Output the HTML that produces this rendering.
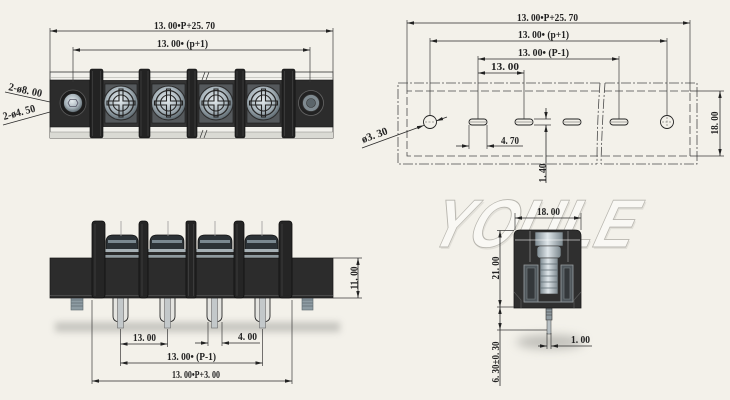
<!DOCTYPE html>
<html><head><meta charset="utf-8"><style>
html,body{margin:0;padding:0;background:#f3f1ea;}
svg{display:block}
text{font-family:"Liberation Serif",serif;font-weight:bold;font-size:11px;fill:#222}
.d{stroke:#2a2a2a;stroke-width:.8;fill:none}
.e{stroke:#3a3a3a;stroke-width:.7;fill:none}
.dd{stroke:#4a4a4a;stroke-width:.8;fill:none;stroke-dasharray:10 2 2 2}
.ds{stroke:#4a4a4a;stroke-width:.8;fill:none;stroke-dasharray:8 3}
</style></head><body>
<svg width="730" height="400" viewBox="0 0 730 400" xmlns="http://www.w3.org/2000/svg">
<defs>
<marker id="a" viewBox="0 0 7 4" refX="7" refY="2" markerWidth="7" markerHeight="4" markerUnits="userSpaceOnUse" orient="auto-start-reverse"><path d="M0,0.3L7,2L0,3.7z" fill="#222"/></marker>
<radialGradient id="mg" cx="45%" cy="40%" r="60%"><stop offset="0" stop-color="#e6ecef"/><stop offset=".6" stop-color="#a9b5bc"/><stop offset="1" stop-color="#5d6970"/></radialGradient>
<linearGradient id="met" x1="0" x2="1"><stop offset="0" stop-color="#7d8a91"/><stop offset=".45" stop-color="#dfe6ea"/><stop offset="1" stop-color="#7a868c"/></linearGradient>
<filter id="bl" x="-20%" y="-100%" width="140%" height="300%"><feGaussianBlur stdDeviation="3.5"/></filter>
<filter id="bl2" x="-50%" y="-100%" width="200%" height="300%"><feGaussianBlur stdDeviation="5"/></filter>
</defs>
<rect width="730" height="400" fill="#f3f1ea"/>

<!-- ============ TOP LEFT VIEW ============ -->
<rect x="50" y="72" width="283" height="66" fill="#f1f0eb" stroke="#333" stroke-width=".8"/>
<line x1="50" y1="77.5" x2="333" y2="77.5" stroke="#a5a5a0" stroke-width=".6"/>
<rect x="50" y="80" width="283" height="47" fill="#2f2f2f"/>
<rect x="50" y="132" width="283" height="6" fill="#dadad4"/>
<line x1="50" y1="132" x2="333" y2="132" stroke="#8a8a86" stroke-width=".6"/>
<rect x="50" y="80" width="40" height="47" fill="#2c2c2c" stroke="#1a1a1a" stroke-width=".6"/>
<circle cx="73" cy="103" r="13" fill="#1c1c1c" stroke="#5a5a5a" stroke-width=".8"/>
<circle cx="73" cy="103" r="9.5" fill="url(#mg)" stroke="#222" stroke-width=".8"/>
<path d="M70,99.5h6l2,3.5-2,3.5h-6l-2-3.5z" fill="none" stroke="#556" stroke-width=".8"/>
<rect x="295" y="80" width="38" height="47" fill="#2c2c2c" stroke="#1a1a1a" stroke-width=".6"/>
<circle cx="311" cy="103" r="12.5" fill="#222" stroke="#666" stroke-width=".8"/>
<circle cx="311" cy="103" r="8.5" fill="#7f8a90" stroke="#333" stroke-width=".8"/>
<circle cx="311" cy="103" r="4.5" fill="#5b656a" stroke="#333" stroke-width=".6"/>
<g>
<rect x="103" y="80" width="36" height="47" fill="#333"/>
<rect x="105" y="84" width="32" height="39" fill="#55595c" stroke="#1a1a1a" stroke-width=".6"/>
<circle cx="121" cy="103" r="17" fill="url(#mg)" stroke="#2a2a2a"/>
<circle cx="121" cy="103" r="12.5" fill="none" stroke="#2a2a2a" stroke-width="1.3"/>
<circle cx="121" cy="103" r="8" fill="none" stroke="#2a2a2a" stroke-width="1.1"/>
<path d="M119,89h4v12h12v4h-12v12h-4v-12h-12v-4h12z" fill="none" stroke="#222" stroke-width="1.1"/>
</g>
<g>
<rect x="150" y="80" width="37" height="47" fill="#333"/>
<rect x="152" y="84" width="33" height="39" fill="#55595c" stroke="#1a1a1a" stroke-width=".6"/>
<circle cx="168.5" cy="103" r="17" fill="url(#mg)" stroke="#2a2a2a"/>
<circle cx="168.5" cy="103" r="12.5" fill="none" stroke="#2a2a2a" stroke-width="1.3"/>
<circle cx="168.5" cy="103" r="8" fill="none" stroke="#2a2a2a" stroke-width="1.1"/>
<path d="M166.5,89h4v12h12v4h-12v12h-4v-12h-12v-4h12z" fill="none" stroke="#222" stroke-width="1.1"/>
</g>
<g>
<rect x="197" y="80" width="38" height="47" fill="#333"/>
<rect x="199" y="84" width="34" height="39" fill="#55595c" stroke="#1a1a1a" stroke-width=".6"/>
<circle cx="216" cy="103" r="17" fill="url(#mg)" stroke="#2a2a2a"/>
<circle cx="216" cy="103" r="12.5" fill="none" stroke="#2a2a2a" stroke-width="1.3"/>
<circle cx="216" cy="103" r="8" fill="none" stroke="#2a2a2a" stroke-width="1.1"/>
<path d="M214,89h4v12h12v4h-12v12h-4v-12h-12v-4h12z" fill="none" stroke="#222" stroke-width="1.1"/>
</g>
<g>
<rect x="245" y="80" width="37" height="47" fill="#333"/>
<rect x="247" y="84" width="33" height="39" fill="#55595c" stroke="#1a1a1a" stroke-width=".6"/>
<circle cx="263.5" cy="103" r="17" fill="url(#mg)" stroke="#2a2a2a"/>
<circle cx="263.5" cy="103" r="12.5" fill="none" stroke="#2a2a2a" stroke-width="1.3"/>
<circle cx="263.5" cy="103" r="8" fill="none" stroke="#2a2a2a" stroke-width="1.1"/>
<path d="M261.5,89h4v12h12v4h-12v12h-4v-12h-12v-4h12z" fill="none" stroke="#222" stroke-width="1.1"/>
</g>
<g fill="#232323" stroke="#0e0e0e" stroke-width=".6">
<rect x="90" y="69" width="13" height="69" rx="2"/>
<rect x="139" y="69" width="11" height="69" rx="2"/>
<rect x="187" y="69" width="10" height="69" rx="2"/>
<rect x="235" y="69" width="10" height="69" rx="2"/>
<rect x="282" y="69" width="13" height="69" rx="2"/>
</g>
<g stroke="#444" stroke-width=".7">
<line x1="92.5" y1="71" x2="92.5" y2="136"/><line x1="100.5" y1="71" x2="100.5" y2="136"/>
<line x1="141" y1="71" x2="141" y2="136"/><line x1="148" y1="71" x2="148" y2="136"/>
<line x1="189" y1="71" x2="189" y2="136"/><line x1="195" y1="71" x2="195" y2="136"/>
<line x1="237" y1="71" x2="237" y2="136"/><line x1="243" y1="71" x2="243" y2="136"/>
<line x1="284.5" y1="71" x2="284.5" y2="136"/><line x1="292.5" y1="71" x2="292.5" y2="136"/>
</g>
<g stroke="#333" stroke-width=".7">
<line x1="202" y1="80" x2="205" y2="72"/><line x1="206" y1="80" x2="209" y2="72"/>
<line x1="200" y1="138" x2="203" y2="130"/><line x1="204" y1="138" x2="207" y2="130"/>
</g>
<line class="e" x1="50" y1="28" x2="50" y2="72"/>
<line class="e" x1="333" y1="28" x2="333" y2="72"/>
<line class="d" x1="50" y1="31" x2="333" y2="31" marker-start="url(#a)" marker-end="url(#a)"/>
<text x="154" y="29" textLength="61" lengthAdjust="spacingAndGlyphs">13. 00•P+25. 70</text>
<line class="e" x1="73" y1="47" x2="73" y2="82"/>
<line class="e" x1="310" y1="47" x2="310" y2="82"/>
<line class="d" x1="73" y1="50" x2="310" y2="50" marker-start="url(#a)" marker-end="url(#a)"/>
<text x="157" y="47" textLength="51" lengthAdjust="spacingAndGlyphs">13. 00• (p+1)</text>
<line class="d" x1="5" y1="92" x2="50" y2="102"/>
<text x="8" y="90" transform="rotate(12 8 90)" textLength="34" lengthAdjust="spacingAndGlyphs">2-ø8. 00</text>
<line class="d" x1="3" y1="125" x2="50" y2="112"/>
<text x="4" y="120" transform="rotate(-15 4 120)" textLength="33" lengthAdjust="spacingAndGlyphs">2-ø4. 50</text>

<!-- ============ TOP RIGHT VIEW ============ -->
<path class="dd" d="M600,83 L398,83 L398,164 L597,164"/>
<path class="dd" d="M600,83 Q597,123 597,164"/>
<path class="dd" d="M605,83 L697,83 L697,164 L601,164"/>
<path class="dd" d="M605,83 Q602,123 601,164"/>
<path class="ds" d="M599,91 L407,91 L407,156 L598,156"/>
<path class="ds" d="M604,91 L690,91 L690,156 L602,156"/>
<circle cx="430" cy="122" r="6.5" fill="none" stroke="#222" stroke-width=".9"/>
<circle cx="667" cy="122" r="6.5" fill="none" stroke="#222" stroke-width=".9"/>
<g stroke="#555" stroke-width=".5" stroke-dasharray="2 1.5"><line x1="662" y1="122" x2="672" y2="122"/><line x1="667" y1="117" x2="667" y2="127"/><line x1="425" y1="122" x2="435" y2="122"/></g>
<g fill="none" stroke="#222" stroke-width=".9">
<rect x="469" y="119" width="18" height="6" rx="3"/>
<rect x="515" y="119" width="18" height="6" rx="3"/>
<rect x="563" y="119" width="18" height="6" rx="3"/>
<rect x="610" y="119" width="18" height="6" rx="3"/>
</g>
<g stroke="#555" stroke-width=".5">
<line x1="470" y1="122" x2="486" y2="122"/><line x1="516" y1="122" x2="532" y2="122"/>
<line x1="564" y1="122" x2="580" y2="122"/><line x1="611" y1="122" x2="627" y2="122"/>
</g>
<line class="e" x1="407" y1="20" x2="407" y2="91"/>
<line class="e" x1="690" y1="20" x2="690" y2="91"/>
<line class="e" x1="430" y1="38" x2="430" y2="115.5"/>
<line class="e" x1="667" y1="38" x2="667" y2="115.5"/>
<line class="e" x1="478" y1="56" x2="478" y2="119"/>
<line class="e" x1="524" y1="70" x2="524" y2="119"/>
<line class="e" x1="619" y1="56" x2="619" y2="119"/>
<line class="d" x1="407" y1="23" x2="690" y2="23" marker-start="url(#a)" marker-end="url(#a)"/>
<text x="517" y="21" textLength="61" lengthAdjust="spacingAndGlyphs">13. 00•P+25. 70</text>
<line class="d" x1="430" y1="41" x2="667" y2="41" marker-start="url(#a)" marker-end="url(#a)"/>
<text x="518" y="38" textLength="51" lengthAdjust="spacingAndGlyphs">13. 00• (p+1)</text>
<line class="d" x1="478" y1="59" x2="619" y2="59" marker-start="url(#a)" marker-end="url(#a)"/>
<text x="518" y="56" textLength="51" lengthAdjust="spacingAndGlyphs">13. 00• (P-1)</text>
<line class="d" x1="478" y1="73" x2="524" y2="73" marker-start="url(#a)" marker-end="url(#a)"/>
<text x="491" y="70" textLength="28" lengthAdjust="spacingAndGlyphs">13. 00</text>
<line class="e" x1="469" y1="125" x2="469" y2="149"/>
<line class="e" x1="487" y1="125" x2="487" y2="149"/>
<line class="d" x1="456" y1="146" x2="469" y2="146" marker-end="url(#a)"/>
<line class="d" x1="523" y1="146" x2="487" y2="146" marker-end="url(#a)"/>
<text x="501" y="144" textLength="18" lengthAdjust="spacingAndGlyphs">4. 70</text>
<line class="e" x1="534" y1="119" x2="551" y2="119"/>
<line class="e" x1="534" y1="125" x2="551" y2="125"/>
<line class="d" x1="546" y1="108" x2="546" y2="119" marker-end="url(#a)"/>
<line class="d" x1="546" y1="183" x2="546" y2="125" marker-end="url(#a)"/>
<text x="542" y="177" text-anchor="middle" transform="rotate(-90 542 173)" textLength="19" lengthAdjust="spacingAndGlyphs">1. 40</text>
<line class="d" x1="362" y1="148" x2="423.9" y2="125.4" marker-end="url(#a)"/>
<line class="d" x1="447" y1="117" x2="436.1" y2="121" marker-end="url(#a)"/>
<text x="363" y="143" transform="rotate(-20 363 143)" textLength="27" lengthAdjust="spacingAndGlyphs">ø3. 30</text>
<line class="e" x1="690" y1="91" x2="724" y2="91"/>
<line class="e" x1="690" y1="156" x2="724" y2="156"/>
<line class="d" x1="720" y1="91" x2="720" y2="156" marker-start="url(#a)" marker-end="url(#a)"/>
<text x="714" y="127" text-anchor="middle" transform="rotate(-90 714 123)" textLength="23" lengthAdjust="spacingAndGlyphs">18. 00</text>

<!-- ============ BOTTOM LEFT VIEW ============ -->
<rect x="55" y="322" width="285" height="10" fill="#8c8c88" opacity=".42" filter="url(#bl)"/>
<g>
<rect x="71" y="297" width="12" height="13" fill="#8e9ca3" stroke="#5a666c" stroke-width=".6"/>
<rect x="302" y="297" width="11" height="13" fill="#8e9ca3" stroke="#5a666c" stroke-width=".6"/>
<g stroke="#5e6a70" stroke-width=".7">
<line x1="71" y1="300" x2="83" y2="300"/><line x1="71" y1="303" x2="83" y2="303"/><line x1="71" y1="306" x2="83" y2="306"/>
<line x1="302" y1="300" x2="313" y2="300"/><line x1="302" y1="303" x2="313" y2="303"/><line x1="302" y1="306" x2="313" y2="306"/>
</g>
</g>
<g>
<path d="M113,298 V316 Q113,322 120.5,322 Q128,322 128,316 V298" fill="#e4e4e0" stroke="#2a2a2a" stroke-width=".9"/>
<rect x="117.5" y="298" width="6" height="30" fill="#c3c8ca" stroke="#6a6a6a" stroke-width=".6"/>
<path d="M160,298 V316 Q160,322 167.5,322 Q175,322 175,316 V298" fill="#e4e4e0" stroke="#2a2a2a" stroke-width=".9"/>
<rect x="164.5" y="298" width="6" height="30" fill="#c3c8ca" stroke="#6a6a6a" stroke-width=".6"/>
<path d="M207,298 V316 Q207,322 214.5,322 Q222,322 222,316 V298" fill="#e4e4e0" stroke="#2a2a2a" stroke-width=".9"/>
<rect x="211.5" y="298" width="6" height="30" fill="#c3c8ca" stroke="#6a6a6a" stroke-width=".6"/>
<path d="M255,298 V316 Q255,322 262.5,322 Q270,322 270,316 V298" fill="#e4e4e0" stroke="#2a2a2a" stroke-width=".9"/>
<rect x="259.5" y="298" width="6" height="30" fill="#c3c8ca" stroke="#6a6a6a" stroke-width=".6"/>
</g>
<rect x="50" y="258" width="283" height="40" fill="#2c2c2c" stroke="#161616" stroke-width=".7"/>
<line x1="50" y1="295.5" x2="333" y2="295.5" stroke="#4a4a4a" stroke-width="1"/>
<g>
<path d="M106,250 V242 Q106,235 113,235 H131 Q138,235 138,242 V250 Z" fill="#2c3236" stroke="#111" stroke-width=".7"/>
<rect x="108" y="240" width="28" height="3" fill="#7a8890"/>
<rect x="105" y="249" width="34" height="3" fill="#a6b0b5"/>
<rect x="105" y="252" width="34" height="3" fill="#2a2a2a"/>
<rect x="105" y="255" width="34" height="2.5" fill="#8f9a9f"/>
<path d="M150,250 V242 Q150,235 157,235 H177 Q184,235 184,242 V250 Z" fill="#2c3236" stroke="#111" stroke-width=".7"/>
<rect x="152" y="240" width="30" height="3" fill="#7a8890"/>
<rect x="148" y="249" width="38" height="3" fill="#a6b0b5"/>
<rect x="148" y="252" width="38" height="3" fill="#2a2a2a"/>
<rect x="148" y="255" width="38" height="2.5" fill="#8f9a9f"/>
<path d="M198,250 V242 Q198,235 205,235 H225 Q232,235 232,242 V250 Z" fill="#2c3236" stroke="#111" stroke-width=".7"/>
<rect x="200" y="240" width="30" height="3" fill="#7a8890"/>
<rect x="196" y="249" width="38" height="3" fill="#a6b0b5"/>
<rect x="196" y="252" width="38" height="3" fill="#2a2a2a"/>
<rect x="196" y="255" width="38" height="2.5" fill="#8f9a9f"/>
<path d="M245,250 V242 Q245,235 252,235 H271 Q278,235 278,242 V250 Z" fill="#2c3236" stroke="#111" stroke-width=".7"/>
<rect x="247" y="240" width="29" height="3" fill="#7a8890"/>
<rect x="244" y="249" width="35" height="3" fill="#a6b0b5"/>
<rect x="244" y="252" width="35" height="3" fill="#2a2a2a"/>
<rect x="244" y="255" width="35" height="2.5" fill="#8f9a9f"/>
</g>
<g stroke="#9a9a9a" stroke-width=".8">
<line x1="121" y1="221" x2="121" y2="236"/><line x1="168" y1="221" x2="168" y2="236"/>
<line x1="215" y1="221" x2="215" y2="236"/><line x1="262" y1="221" x2="262" y2="236"/>
</g>
<g fill="#252525" stroke="#0f0f0f" stroke-width=".8">
<rect x="92" y="221" width="13" height="77" rx="3"/>
<rect x="139" y="221" width="9" height="77" rx="3"/>
<rect x="186" y="221" width="10" height="77" rx="2"/>
<rect x="234" y="221" width="10" height="77" rx="3"/>
<rect x="279" y="221" width="13" height="77" rx="3"/>
</g>
<g stroke="#474747" stroke-width=".7">
<line x1="95" y1="224" x2="95" y2="296"/><line x1="142" y1="224" x2="142" y2="296"/>
<line x1="188.5" y1="224" x2="188.5" y2="296"/><line x1="193.5" y1="224" x2="193.5" y2="296"/>
<line x1="237" y1="224" x2="237" y2="296"/><line x1="282" y1="224" x2="282" y2="296"/>
</g>
<line class="e" x1="333" y1="258" x2="362" y2="258"/>
<line class="e" x1="333" y1="298" x2="362" y2="298"/>
<line class="d" x1="358" y1="258" x2="358" y2="298" marker-start="url(#a)" marker-end="url(#a)"/>
<text x="353.5" y="282" text-anchor="middle" transform="rotate(-90 353.5 278)" textLength="23" lengthAdjust="spacingAndGlyphs">11. 00</text>
<line class="e" x1="92" y1="300" x2="92" y2="384"/>
<line class="e" x1="292" y1="300" x2="292" y2="384"/>
<line class="e" x1="120.5" y1="329" x2="120.5" y2="366"/>
<line class="e" x1="167.5" y1="329" x2="167.5" y2="347"/>
<line class="e" x1="262.5" y1="329" x2="262.5" y2="366"/>
<line class="e" x1="208" y1="322" x2="208" y2="346"/>
<line class="e" x1="222" y1="322" x2="222" y2="346"/>
<line class="d" x1="120.5" y1="344" x2="167.5" y2="344" marker-start="url(#a)" marker-end="url(#a)"/>
<text x="133" y="341" textLength="23" lengthAdjust="spacingAndGlyphs">13. 00</text>
<line class="d" x1="195" y1="343" x2="208" y2="343" marker-end="url(#a)"/>
<line class="d" x1="260" y1="343" x2="222" y2="343" marker-end="url(#a)"/>
<text x="238" y="340" textLength="19" lengthAdjust="spacingAndGlyphs">4. 00</text>
<line class="d" x1="120.5" y1="363" x2="262.5" y2="363" marker-start="url(#a)" marker-end="url(#a)"/>
<text x="167" y="360" textLength="49" lengthAdjust="spacingAndGlyphs">13. 00• (P-1)</text>
<line class="d" x1="92" y1="381" x2="292" y2="381" marker-start="url(#a)" marker-end="url(#a)"/>
<text x="172" y="378" textLength="48" lengthAdjust="spacingAndGlyphs">13. 00•P+3. 00</text>

<!-- ============ BOTTOM RIGHT VIEW ============ -->
<g transform="translate(0,247) skewX(-24)">
<text x="426" y="2" textLength="204" lengthAdjust="spacingAndGlyphs" style="font-family:'Liberation Sans',sans-serif;font-weight:bold;fill:#dcdad3;stroke:none;font-size:68px" opacity=".7">YOULE</text>
<text x="424" y="0" textLength="204" lengthAdjust="spacingAndGlyphs" style="font-family:'Liberation Sans',sans-serif;font-weight:bold;fill:#f9f8f4;stroke:#b8b6af;stroke-width:.9;font-size:68px">YOULE</text>
</g>
<ellipse cx="550" cy="342" rx="34" ry="7" fill="#8a8a86" opacity=".5" filter="url(#bl2)"/>
<rect x="546" y="303" width="6" height="17" fill="#8e9aa0" stroke="#333" stroke-width=".6"/>
<g stroke="#444" stroke-width=".6"><line x1="546" y1="309" x2="552" y2="309"/><line x1="546" y1="312" x2="552" y2="312"/><line x1="546" y1="315" x2="552" y2="315"/></g>
<rect x="547" y="320" width="4" height="14" fill="#b8c0c4" stroke="#555" stroke-width=".6"/>
<path d="M514,308 L514,236 Q514,230 520,230 L575,230 Q581,230 581,236 L581,308 Z" fill="#2f2f2f" stroke="#1a1a1a" stroke-width=".8"/>
<path d="M514,292 L521,300 L521,308 M581,292 L574,300 L574,308" fill="none" stroke="#555" stroke-width=".8"/>
<line x1="530" y1="231" x2="530" y2="262" stroke="#8a8a8a" stroke-width=".8"/>
<line x1="568" y1="231" x2="568" y2="262" stroke="#8a8a8a" stroke-width=".8"/>
<rect x="535" y="232" width="28" height="14" fill="url(#met)" stroke="#333" stroke-width=".6"/>
<rect x="537" y="246" width="24" height="12" rx="3" fill="url(#met)" stroke="#333" stroke-width=".6"/>
<rect x="540" y="258" width="18" height="36" fill="url(#met)" stroke="#333" stroke-width=".6"/>
<g stroke="#5e6a70" stroke-width=".7">
<line x1="540" y1="264" x2="558" y2="264"/><line x1="540" y1="270" x2="558" y2="270"/><line x1="540" y1="276" x2="558" y2="276"/><line x1="540" y1="282" x2="558" y2="282"/><line x1="540" y1="288" x2="558" y2="288"/>
</g>
<path d="M524,265 H538 V302 H524 Z M561,265 H573 V302 H561 Z" fill="#4f565b" stroke="#9aa0a4" stroke-width=".8"/>
<path d="M527,268 H535 V299 H527 Z M564,268 H570 V299 H564 Z" fill="#34383b" stroke="#7d8488" stroke-width=".6"/>
<path d="M524,302 H573" stroke="#8a9094" stroke-width="1"/>
<line x1="515" y1="240" x2="580" y2="240" stroke="#ffffff" stroke-width="1.2" opacity=".45"/>
<line class="e" x1="515" y1="213" x2="515" y2="230"/>
<line class="e" x1="581" y1="213" x2="581" y2="230"/>
<line class="d" x1="515" y1="218" x2="581" y2="218" marker-start="url(#a)" marker-end="url(#a)"/>
<text x="537" y="215" textLength="23" lengthAdjust="spacingAndGlyphs">18. 00</text>
<line class="e" x1="497" y1="230.5" x2="514" y2="230.5"/>
<line class="e" x1="497" y1="307" x2="514" y2="307"/>
<line class="e" x1="497" y1="330" x2="547" y2="330"/>
<line class="d" x1="500" y1="268" x2="500" y2="230.5" marker-end="url(#a)"/>
<line class="d" x1="500" y1="290" x2="500" y2="307" marker-end="url(#a)"/>
<line class="d" x1="500" y1="318" x2="500" y2="307" marker-end="url(#a)"/>
<line class="d" x1="500" y1="318" x2="500" y2="330" marker-end="url(#a)"/>
<line class="d" x1="500" y1="268" x2="500" y2="290"/>
<line class="d" x1="500" y1="330" x2="500" y2="386"/>
<text x="495" y="272" text-anchor="middle" transform="rotate(-90 495 268)" textLength="23" lengthAdjust="spacingAndGlyphs">21. 00</text>
<text x="495" y="366" text-anchor="middle" transform="rotate(-90 495 362)" textLength="41" lengthAdjust="spacingAndGlyphs">6. 30±0. 30</text>
<line class="e" x1="547" y1="333" x2="547" y2="349"/>
<line class="e" x1="551" y1="333" x2="551" y2="349"/>
<line class="d" x1="538" y1="346" x2="547" y2="346" marker-end="url(#a)"/>
<line class="d" x1="592" y1="346" x2="551" y2="346" marker-end="url(#a)"/>
<text x="571" y="343" textLength="19" lengthAdjust="spacingAndGlyphs">1. 00</text>
</svg>
</body></html>
